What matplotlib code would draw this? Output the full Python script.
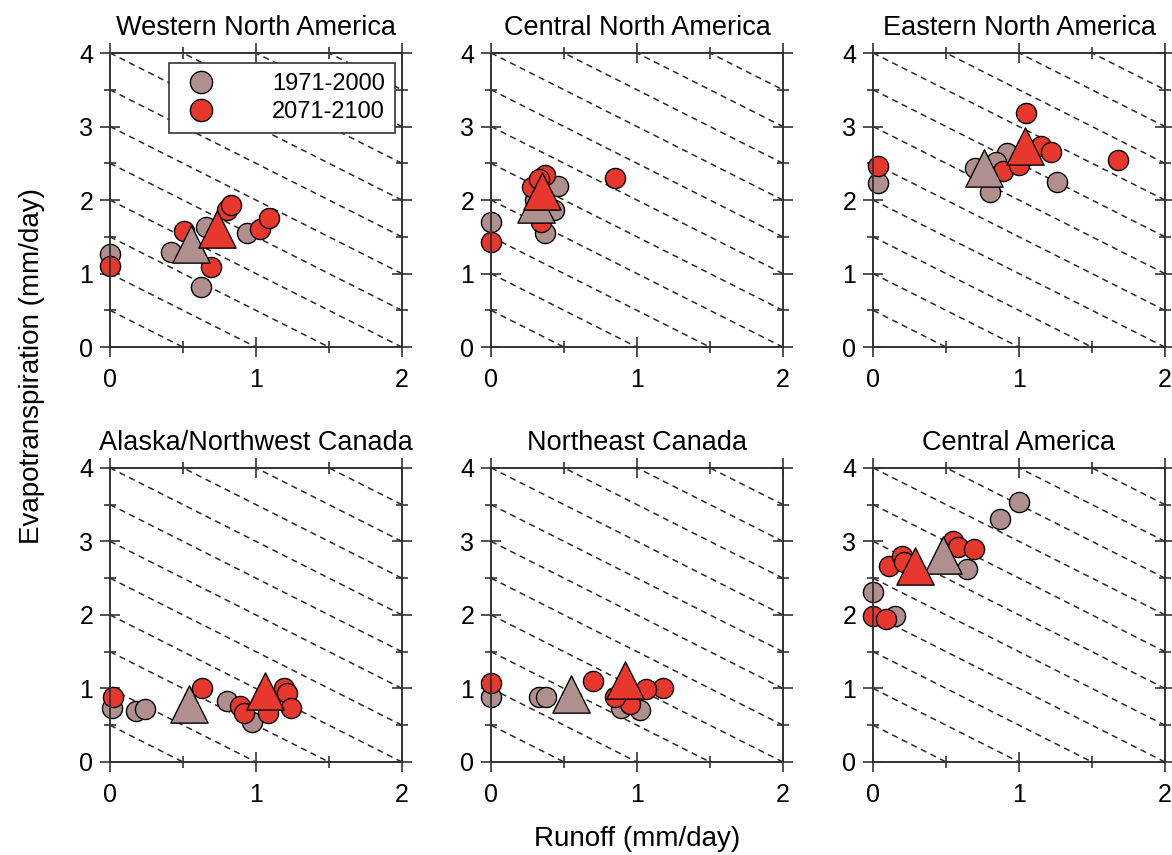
import numpy as np
import matplotlib
matplotlib.use("Agg")
import matplotlib.pyplot as plt
from matplotlib.ticker import MultipleLocator
from matplotlib.lines import Line2D

plt.rcParams['font.family'] = ['Liberation Sans', 'DejaVu Sans']

regions = ["Western North America", "Central North America", "Eastern North America",
           "Alaska/Northwest Canada", "Northeast Canada", "Central America"]

# individual models, 1971-2000 (runoff, evapotranspiration in mm/day)
hist_runoff = [
    [0.00, 0.42, 0.625, 0.66, 0.94],
    [0.00, 0.37, 0.46, 0.43, 0.30, 0.33],
    [0.03, 0.80, 0.70, 0.92, 1.26, 0.84],
    [0.01, 0.175, 0.24, 0.80, 0.97],
    [0.00, 0.33, 0.375, 0.89, 1.02],
    [1.00, 0.87, 0.64, 0.00, 0.15, 0.55],
]
hist_et = [
    [1.27, 1.30, 0.82, 1.64, 1.55],
    [1.70, 1.55, 2.19, 1.86, 2.00, 2.10],
    [2.23, 2.11, 2.43, 2.64, 2.25, 2.52],
    [0.74, 0.70, 0.72, 0.83, 0.54],
    [0.89, 0.88, 0.88, 0.74, 0.71],
    [3.53, 3.30, 2.63, 2.31, 1.98, 2.95],
]

# individual models, 2071-2100
fut_runoff = [
    [0.00, 0.51, 0.69, 0.80, 0.83, 1.03, 1.09],
    [0.00, 0.85, 0.34, 0.37, 0.28, 0.33],
    [0.03, 1.05, 0.89, 1.00, 1.15, 1.22, 1.68],
    [0.02, 0.63, 0.89, 0.92, 1.08, 1.19, 1.21, 1.24],
    [0.00, 0.70, 1.175, 0.95, 1.06, 0.85],
    [0.00, 0.09, 0.11, 0.20, 0.21, 0.55, 0.58, 0.69],
]
fut_et = [
    [1.10, 1.58, 1.09, 1.86, 1.93, 1.61, 1.75],
    [1.43, 2.30, 1.70, 2.34, 2.18, 2.28],
    [2.46, 3.18, 2.39, 2.48, 2.74, 2.66, 2.55],
    [0.89, 1.01, 0.76, 0.67, 0.67, 1.00, 0.94, 0.74],
    [1.07, 1.10, 1.01, 0.79, 0.99, 0.88],
    [1.99, 1.95, 2.67, 2.80, 2.72, 3.01, 2.92, 2.90],
]

# multi-model means
hist_mean_runoff = [0.555, 0.31, 0.76, 0.54, 0.55, 0.48]
hist_mean_et = [1.40, 1.95, 2.43, 0.79, 0.92, 2.81]
fut_mean_runoff = [0.73, 0.35, 1.04, 1.06, 0.92, 0.29]
fut_mean_et = [1.60, 2.13, 2.73, 0.97, 1.11, 2.66]

gray = "#b08f8f"
red = "#e8382e"

fig = plt.figure(figsize=(11.72, 8.55), dpi=100)

lefts = [0.0939, 0.419, 0.745]
bottoms = [0.594, 0.1088]
w, h = 0.249, 0.344

for i, name in enumerate(regions):
    ax = fig.add_axes([lefts[i % 3], bottoms[i // 3], w, h])

    # lines of constant runoff + evapotranspiration
    for c in np.arange(0.5, 6.0, 0.5):
        ax.plot([0, c], [c, 0], color="#2a2a2a", lw=1.1, ls=(0, (4, 3)), zorder=1)

    ax.scatter(hist_runoff[i], hist_et[i], s=210, c=gray, edgecolors="black",
               linewidths=1.0, zorder=3, clip_on=False)
    ax.scatter(fut_runoff[i], fut_et[i], s=210, c=red, edgecolors="black",
               linewidths=1.0, zorder=4, clip_on=False)
    ax.scatter([hist_mean_runoff[i]], [hist_mean_et[i]], s=720, marker="^", c=gray,
               edgecolors="black", linewidths=1.0, zorder=5, clip_on=False)
    ax.scatter([fut_mean_runoff[i]], [fut_mean_et[i]], s=720, marker="^", c=red,
               edgecolors="black", linewidths=1.0, zorder=6, clip_on=False)

    ax.set_xlim(0, 2)
    ax.set_ylim(0, 4)
    ax.xaxis.set_major_locator(MultipleLocator(1))
    ax.xaxis.set_minor_locator(MultipleLocator(0.5))
    ax.yaxis.set_major_locator(MultipleLocator(1))
    ax.yaxis.set_minor_locator(MultipleLocator(0.5))
    ax.tick_params(which="both", direction="inout", top=True, right=True,
                   width=1.2, color="#333333", labelsize=18)
    ax.tick_params(which="major", length=14, pad=5)
    ax.tick_params(axis="x", which="major", pad=8)
    ax.tick_params(which="minor", length=9)
    for sp in ax.spines.values():
        sp.set_linewidth(1.4)
        sp.set_color("#333333")
        sp.set_zorder(7)
    ax.set_title(name, fontsize=19.5, pad=13)

    if i == 0:
        handles = [
            Line2D([], [], marker="o", ls="", ms=16, mfc=gray, mec="black", mew=1.0),
            Line2D([], [], marker="o", ls="", ms=16, mfc=red, mec="black", mew=1.0),
        ]
        leg = ax.legend(handles, ["1971-2000", "2071-2100"], loc="upper right",
                        bbox_to_anchor=(0.976, 0.966), fontsize=17, frameon=True,
                        fancybox=False, edgecolor="#333333", framealpha=1,
                        handletextpad=2.1, borderpad=0.42, labelspacing=0.25,
                        handlelength=1.86, borderaxespad=0)
        leg.get_frame().set_linewidth(1.2)
        leg.set_zorder(10)

fig.text(0.027, 0.572, "Evapotranspiration (mm/day)", rotation=90, fontsize=20,
         ha="center", va="center")
fig.text(0.544, 0.0185, "Runoff (mm/day)", fontsize=20, ha="center", va="center")

fig.savefig("out.png", dpi=100)
